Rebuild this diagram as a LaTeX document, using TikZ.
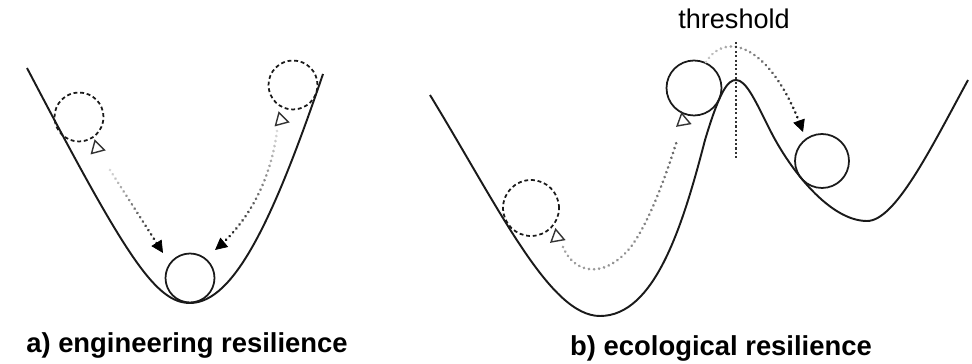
\documentclass[tikz,border=0pt]{standalone}
\usepackage{fontspec}
\setmainfont{Liberation Sans}
\usetikzlibrary{arrows.meta, shapes.geometric, decorations.markings}
\definecolor{inkline}{HTML}{1A1A1A}
\tikzset{
  landscape/.style={line width=1.1pt, inkline},
  ball/.style={circle, draw=inkline, line width=1pt, inner sep=0pt,
    minimum size=0.98cm},
  ghost/.style={ball, dash pattern=on 2.2pt off 1.6pt},
  tail/.style={regular polygon, regular polygon sides=3, draw=black!80,
    fill=white, line width=0.8pt, inner sep=0pt, minimum size=0.31cm},
  caption/.style={font=\fontsize{15.6}{18}\selectfont\bfseries,
    anchor=base, inner sep=0pt},
  thresh/.style={line width=1.2pt, black!80, dash pattern=on 1.2pt off 1.3pt},
  fadedots/.style 2 args={decorate, decoration={markings,
    mark=between positions 0 and 1 step 2.9pt with {
      \pgfmathsetmacro\dd{\pgfkeysvalueof{/pgf/decoration/mark info/distance from start}}
      \pgfmathsetmacro\lvl{#1+(#2-#1)*\dd/\pgfdecoratedpathlength}
      \pgfmathtruncatemacro\keep{(\dd < \pgfdecoratedpathlength - 5) ? 1 : 0}
      \ifnum\keep=1 \fill[black!\lvl] (0,0) circle (0.85pt);\fi}}},
  fadearrow/.style 2 args={fadedots={#1}{#2}, decoration={markings,
    mark=at position 1 with {\arrow{Triangle[length=2.4mm, width=2.4mm]}}}},
}
\begin{document}
\begin{tikzpicture}[x=0.02cm, y=-0.02cm]
\useasboundingbox (0,0) rectangle (972,364);

% ---- a) engineering resilience ----
\draw[landscape] (27,68) .. controls (125,255) and (155,303) .. (190,303)
  .. controls (235,303) and (275,215) .. (323,74);
\node[ghost] (ghostL) at (79,117) {};
\node[ghost] (ghostR) at (293,85) {};
\node[ball] (restA) at (190,278) {};
\node[tail, rotate=-105] (tailL) at (97,148) {};
\node[tail, rotate=15] (tailR) at (281,120) {};
\coordinate (pushL) at (110,170);
\coordinate (backL) at (163,253);
\coordinate (pushR) at (277,131);
\coordinate (backR) at (215,250);
\path[fadearrow={15}{100}] (pushL) -- (backL);
\path[fadearrow={15}{100}] (pushR) .. controls (270,185) and (245,225) .. (backR);
\node[caption] (capA) at (187,352) {a) engineering resilience};

% ---- b) ecological resilience ----
\draw[landscape] (430,95) .. controls (500,210) and (550,316) .. (600,316)
  .. controls (655,316) and (683,225) .. (705,140)
  .. controls (720,90) and (728,80) .. (736,80)
  .. controls (746,80) and (755,100) .. (770,130)
  .. controls (790,170) and (830,221) .. (867,221)
  .. controls (895,221) and (930,150) .. (968,80);
\node[ghost, minimum size=1.12cm] (ghostB) at (531,208) {};
\node[ball, minimum size=1.1cm] (tipB) at (694,88) {};
\node[ball, minimum size=1.08cm] (newB) at (822,161) {};
\node[tail, rotate=-110] (tailB) at (557,237) {};
\node[tail, rotate=10] (headB) at (683,121) {};
\coordinate (climbS) at (563,247);
\coordinate (climbE) at (680,131);
\path[fadedots={35}{60}] (climbS) .. controls (575,275) and (605,278) .. (630,248)
  .. controls (650,222) and (668,170) .. (climbE);
\coordinate (overS) at (706,62);
\coordinate (overE) at (803,132);
\path[fadearrow={20}{100}] (overS) .. controls (726,30) and (772,45) .. (overE);
\coordinate (thrTop) at (736,42);
\coordinate (thrBot) at (736,158);
\draw[thresh] (thrTop) -- (thrBot);
\node[font=\fontsize{15.4}{18}\selectfont, anchor=base, inner sep=0pt]
  (thrLabel) at (734,29) {threshold};
\node[caption] (capB) at (721,355) {b) ecological resilience};

\end{tikzpicture}
\end{document}
